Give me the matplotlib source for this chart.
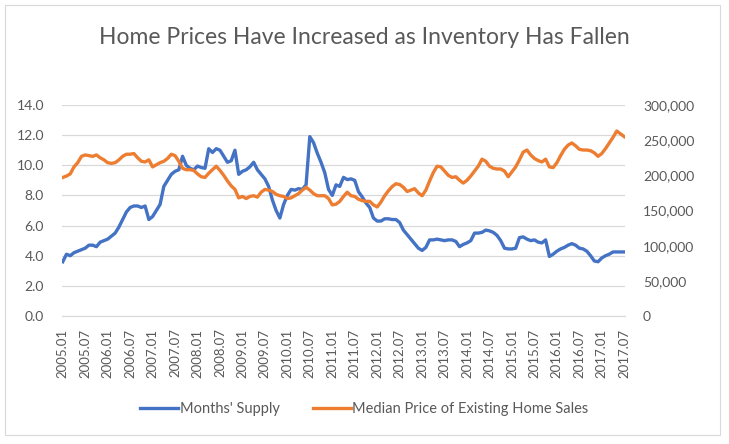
import matplotlib
matplotlib.use("Agg")
import matplotlib.pyplot as plt
from matplotlib.patches import Rectangle
from matplotlib.ticker import FuncFormatter, MultipleLocator

# monthly data, 2005.01 .. 2017.07
months = ["%d.%02d" % (y, m) for y in range(2005, 2018) for m in range(1, 13)][:151]

months_supply = [
    3.6, 4.1, 4.0, 4.2, 4.3, 4.4, 4.5, 4.7, 4.7, 4.6, 4.9, 5.0,
    5.1, 5.3, 5.5, 5.9, 6.4, 6.9, 7.2, 7.3, 7.3, 7.2, 7.3, 6.4,
    6.6, 7.0, 7.4, 8.6, 9.0, 9.4, 9.6, 9.7, 10.6, 10.0, 9.8, 9.7,
    9.95, 9.85, 9.8, 11.1, 10.85, 11.1, 11.0, 10.6, 10.2, 10.3, 11.0, 9.4,
    9.6, 9.7, 9.9, 10.2, 9.7, 9.4, 9.1, 8.6, 7.7, 7.0, 6.5, 7.4,
    8.0, 8.4, 8.35, 8.45, 8.4, 8.7, 11.9, 11.5, 10.8, 10.2, 9.5, 8.4,
    8.0, 8.7, 8.6, 9.2, 9.05, 9.1, 9.0, 8.25, 7.9, 7.5, 7.2, 6.5,
    6.3, 6.3, 6.45, 6.45, 6.4, 6.4, 6.2, 5.7, 5.4, 5.1, 4.8, 4.5,
    4.35, 4.55, 5.05, 5.05, 5.1, 5.05, 5.0, 5.05, 5.05, 4.95, 4.6, 4.75,
    4.85, 5.0, 5.5, 5.5, 5.55, 5.7, 5.65, 5.55, 5.35, 5.0, 4.5, 4.45,
    4.45, 4.5, 5.2, 5.25, 5.1, 5.0, 5.05, 4.9, 4.85, 5.05, 3.95, 4.1,
    4.3, 4.45, 4.55, 4.7, 4.8, 4.7, 4.5, 4.45, 4.3, 4.0, 3.65, 3.6,
    3.85, 4.0, 4.1, 4.25, 4.25, 4.25, 4.25,
]

median_price = [
    197000, 199000, 202000, 212000, 218000, 227000, 229000, 228000, 227000, 229000, 225000, 222000,
    218000, 217000, 218000, 222000, 227000, 230000, 230000, 231000, 225000, 220000, 219000, 222000,
    212000, 215000, 218000, 220000, 224000, 230000, 228000, 220000, 210000, 208000, 208000, 207000,
    202000, 198000, 197000, 203000, 208000, 213000, 207000, 200000, 192000, 185000, 180000, 168000,
    170000, 167000, 170000, 171000, 169000, 176000, 180000, 179000, 177000, 173000, 171000, 170000,
    167000, 168000, 171000, 174000, 179000, 183000, 179000, 174000, 171000, 171000, 171000, 167000,
    158000, 159000, 163000, 170000, 176000, 171000, 170000, 166000, 164000, 163000, 163000, 158000,
    155000, 162000, 171000, 178000, 184000, 188000, 187000, 183000, 177000, 179000, 181000, 175000,
    171000, 179000, 192000, 204000, 213000, 212000, 206000, 200000, 197000, 198000, 193000, 189000,
    193000, 199000, 206000, 213000, 223000, 220000, 213000, 210000, 209000, 209000, 206000, 198000,
    205000, 212000, 222000, 233000, 236000, 229000, 224000, 221000, 219000, 223000, 212000, 211000,
    218000, 228000, 237000, 243000, 246000, 242000, 237000, 236000, 236000, 235000, 232000, 227000,
    231000, 238000, 246000, 254000, 263000, 259000, 255000,
]

title = "Home Prices Have Increased as Inventory Has Fallen"
label_supply = "Months' Supply"
label_price = "Median Price of Existing Home Sales"

BLUE = "#4472C4"
ORANGE = "#ED7D31"
GRID = "#D9D9D9"
TXT = "#595959"

plt.rcParams['font.family'] = ['Lato', 'DejaVu Sans']

fig = plt.figure(figsize=(7.29, 4.44), dpi=100)
fig.patches.append(Rectangle((5/729, 1-435/444), 715/729, 430/444, transform=fig.transFigure,
                             fill=False, edgecolor=GRID, linewidth=0.8))

ax = fig.add_axes([62/729, 1-316/444, 563/729, 211/444])
ax2 = ax.twinx()

x = list(range(len(months)))
l1, = ax.plot(x, months_supply, color=BLUE, linewidth=2.4, solid_joinstyle='round')
l2, = ax2.plot(x, median_price, color=ORANGE, linewidth=2.4, solid_joinstyle='round')

ax.set_xlim(-0.2, 150.2)
ax.set_ylim(0, 14)
ax2.set_ylim(0, 300000)
ax.yaxis.set_major_locator(MultipleLocator(2))
ax2.yaxis.set_major_locator(MultipleLocator(50000))
ax.yaxis.set_major_formatter(FuncFormatter(lambda v, p: "%.1f" % v))
ax2.yaxis.set_major_formatter(FuncFormatter(lambda v, p: "{:,.0f}".format(v)))
ax.grid(axis='y', color=GRID, linewidth=0.9)
ax.set_axisbelow(True)

ax.set_xticks(x[::6])
ax.set_xticklabels(months[::6], rotation=90)

for a in (ax, ax2):
    for s in a.spines.values():
        s.set_visible(False)
ax.spines['bottom'].set_visible(True)
ax.spines['bottom'].set_color(GRID)

ax.tick_params(axis='x', length=0, pad=9, labelsize=9.5, labelcolor=TXT)
ax.tick_params(axis='y', length=0, pad=13, labelsize=10, labelcolor=TXT)
ax2.tick_params(axis='y', length=0, pad=13, labelsize=10, labelcolor=TXT)

fig.text(0.5, 1-37/444, title, ha='center', va='center', fontsize=16.5, color=TXT)

fig.legend([l1, l2], [label_supply, label_price], loc='center', bbox_to_anchor=(0.5, 1-409/444),
           ncol=2, frameon=False, fontsize=10.5, handlelength=2.6, handletextpad=0.1,
           columnspacing=2.3, labelcolor=TXT)

fig.savefig("out.png", dpi=100, facecolor='white')
